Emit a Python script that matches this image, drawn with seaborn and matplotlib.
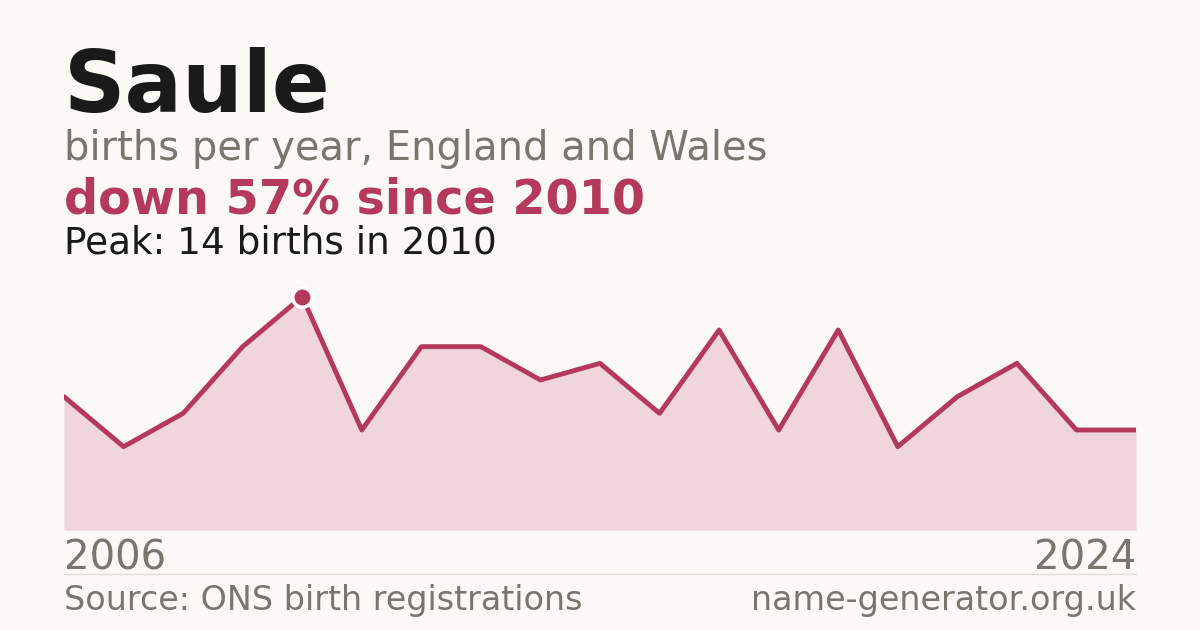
import matplotlib.pyplot as plt
import pandas as pd
import seaborn as sns

# Data
years = list(range(2006, 2025))
births = [8, 5, 7, 11, 14, 6, 11, 11, 9, 10, 7, 12, 6, 12, 5, 8, 10, 6, 6]
peak_year = 2010
peak_value = 14

bg = '#faf9f5'
red = '#b5395a'
grey = '#7a756d'
dark = '#1a1a1a'

df = pd.DataFrame({'year': years, 'births': births})

sns.set_theme(style='white')
plt.rcParams['font.family'] = ['DejaVu Sans']

fig = plt.figure(figsize=(12, 6.3), dpi=100, facecolor=bg)
ax = fig.add_axes([64 / 1200, 100 / 630, 1072 / 1200, 250 / 630])
ax.set_facecolor(bg)

ax.fill_between(df['year'], df['births'], 0, color='#f0d5da', linewidth=0)
sns.lineplot(data=df, x='year', y='births', ax=ax, color=red, linewidth=3.5)
# peak marker
ax.plot([peak_year], [peak_value], 'o', color=red, markersize=14,
        markeredgecolor='white', markeredgewidth=2.5, zorder=5, clip_on=False)

ax.set_xlim(2006, 2024)
ax.set_ylim(0, 15)
ax.axis('off')

# Header text
fig.text(64 / 1200, 1 - 112 / 630, 'Saule', fontsize=61.5, fontweight='bold', color=dark)
fig.text(64 / 1200, 1 - 160 / 630, 'births per year, England and Wales', fontsize=28.8, color=grey)
fig.text(64 / 1200, 1 - 214 / 630, 'down 57% since 2010', fontsize=34.4, fontweight='bold', color=red)
fig.text(64 / 1200, 1 - 253 / 630, 'Peak: 14 births in 2010', fontsize=26.9, color=dark)

# Year labels
fig.text(64 / 1200, 1 - 570 / 630, str(years[0]), fontsize=29, color=grey)
fig.text(1136 / 1200, 1 - 570 / 630, str(years[-1]), fontsize=29, color=grey, ha='right')

# Footer
fig.add_artist(plt.Line2D([64 / 1200, 1136 / 1200], [1 - 574 / 630, 1 - 574 / 630],
                          color='#dddbd5', linewidth=1))
fig.text(64 / 1200, 1 - 610 / 630, 'Source: ONS birth registrations', fontsize=24, color=grey)
fig.text(1136 / 1200, 1 - 610 / 630, 'name-generator.org.uk', fontsize=24, color=grey, ha='right')

fig.savefig('out.png', dpi=100, facecolor=bg)
